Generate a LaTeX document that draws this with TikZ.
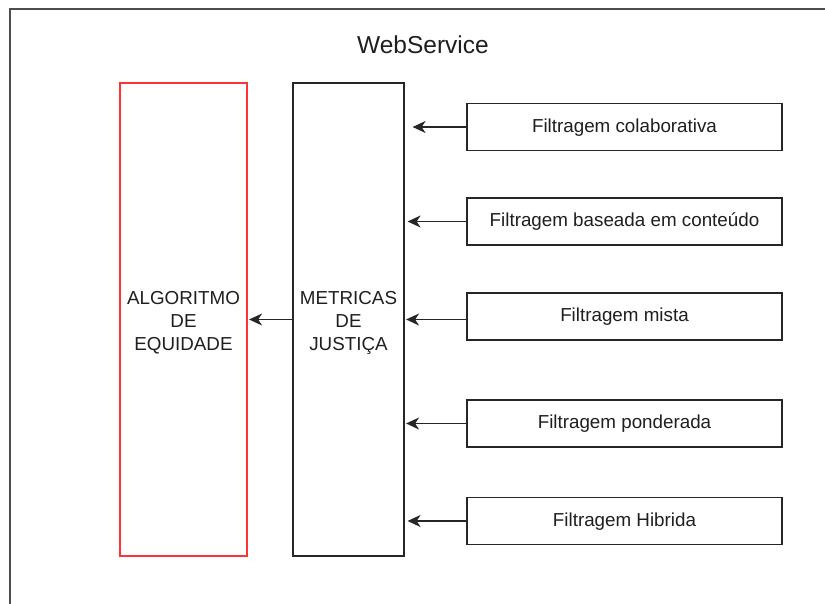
\documentclass[tikz,border=0pt]{standalone}
\usepackage{fontspec}
\setmainfont{Liberation Sans}
\usetikzlibrary{arrows.meta}
\definecolor{linegray}{HTML}{262626}
\definecolor{framegray}{HTML}{4D4D4D}
\definecolor{boxred}{HTML}{FF3333}
\definecolor{txtgray}{HTML}{1F1F1F}

\begin{document}
\begin{tikzpicture}[x=1pt,y=-1pt,
  filterbox/.style={draw=linegray, line width=1.2pt, minimum width=315pt, minimum height=47pt, text height=13.5pt, text depth=3pt, text=txtgray, font=\fontsize{18.8}{23}\selectfont},
  tallbox/.style={line width=1.2pt, minimum height=473pt, text height=65.5pt, text depth=3pt, text=txtgray, align=center, font=\fontsize{18.8}{23}\selectfont},
  conn/.style={-{Stealth[length=13pt,width=12pt,inset=4pt]}, draw=linegray, line width=1.4pt}]
  \useasboundingbox (0,0) rectangle (825,604);
  \fill[white] (0,0) rectangle (825,604);

  % outer container (cut at right and bottom)
  \draw[framegray, line width=1.5pt] (10,604) -- (10,9) -- (825,9);
  \node[text=txtgray, font=\fontsize{24.5}{28}\selectfont] (ws) at (423,45) {WebService};

  % main blocks
  \node[tallbox, draw=boxred, minimum width=127pt] (alg) at (183.5,319.5) {ALGORITMO\\DE\\EQUIDADE};
  \node[tallbox, draw=linegray, minimum width=111pt] (met) at (348.5,319.5) {METRICAS\\DE\\JUSTIÇA};

  % recommendation approaches
  \node[filterbox] (f1) at (624.5,127) {Filtragem colaborativa};
  \node[filterbox] (f2) at (624.5,221.5) {Filtragem baseada em conteúdo};
  \node[filterbox] (f3) at (624.5,316.5) {Filtragem mista};
  \node[filterbox] (f4) at (624.5,423.5) {Filtragem ponderada};
  \node[filterbox] (f5) at (624.5,521) {Filtragem Hibrida};

  % arrows into the metrics block
  \draw[conn, shorten >=8pt] (f1.west) -- (f1.west -| met.east);
  \draw[conn, shorten >=3pt] (f2.west) -- (f2.west -| met.east);
  \draw[conn, shorten >=1.5pt] (f3.west |- met.center) -- (met.east);
  \draw[conn, shorten >=1.5pt] (f4.west) -- (f4.west -| met.east);
  \draw[conn, shorten >=3pt] (f5.west) -- (f5.west -| met.east);

  % metrics to fairness algorithm
  \draw[conn, shorten >=1.5pt] (met.west) -- (alg.east);
\end{tikzpicture}
\end{document}
